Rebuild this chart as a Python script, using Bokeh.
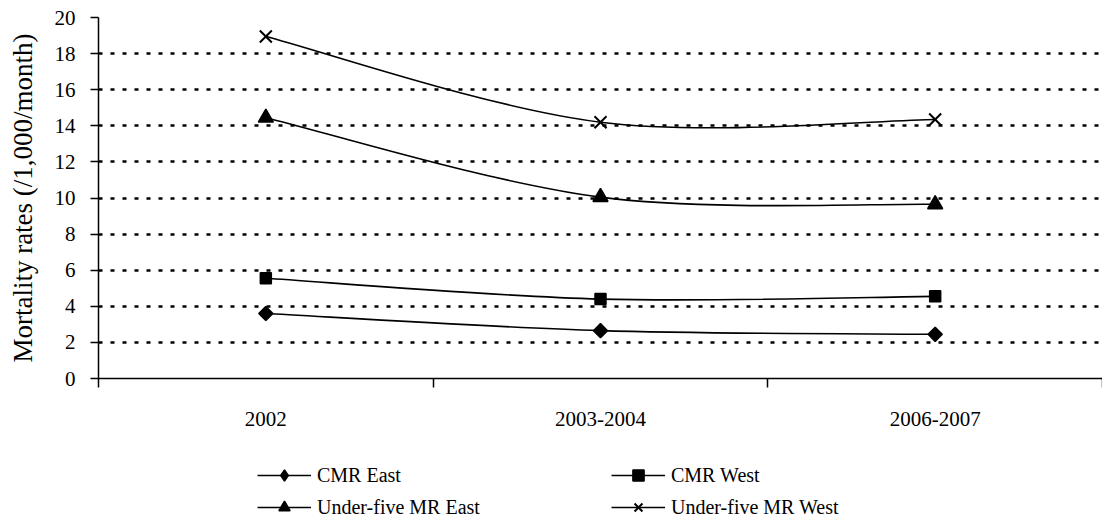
import numpy as np
from bokeh.plotting import figure
from bokeh.layouts import column
from bokeh.models import Range1d, FixedTicker, Legend, LegendItem
from bokeh.embed import file_html
from bokeh.resources import INLINE

# ---- data ----
categories = ["2002", "2003-2004", "2006-2007"]
cmr_east = [3.6, 2.65, 2.45]
cmr_west = [5.55, 4.4, 4.55]
u5_east = [14.45, 10.05, 9.65]
u5_west = [18.95, 14.2, 14.35]
y_ticks = [0, 2, 4, 6, 8, 10, 12, 14, 16, 18, 20]
series_names = ["CMR East", "CMR West", "Under-five MR East", "Under-five MR West"]

FONT = "Liberation Serif"
W = 1102

xs = list(range(1, len(categories) + 1))

p = figure(width=W, height=440, output_backend="svg", toolbar_location=None,
           x_range=Range1d(0.5, len(categories) + 0.5), y_range=Range1d(0, 20),
           min_border_left=98, min_border_right=0, min_border_top=17, min_border_bottom=62)
p.outline_line_color = None
p.background_fill_color = "white"
p.border_fill_color = "white"

# x axis: category labels at centres, ticks at category boundaries
xa = p.xaxis[0]
xa.ticker = FixedTicker(ticks=xs, minor_ticks=[x - 0.5 for x in xs] + [xs[-1] + 0.5])
xa.major_label_overrides = {x: c for x, c in zip(xs, categories)}
xa.major_tick_out = 0
xa.major_tick_in = 0
xa.minor_tick_out = 9
xa.minor_tick_in = 0
xa.minor_tick_line_color = "black"
xa.minor_tick_line_width = 1.5
xa.axis_line_color = "black"
xa.axis_line_width = 1.5
xa.major_label_text_font = FONT
xa.major_label_text_font_size = "21px"
xa.major_label_text_color = "black"
xa.major_label_standoff = 24

ya = p.yaxis[0]
ya.ticker = FixedTicker(ticks=y_ticks)
ya.major_tick_out = 8
ya.major_tick_in = 0
ya.minor_tick_out = 0
ya.minor_tick_in = 0
ya.major_tick_line_color = "black"
ya.major_tick_line_width = 1.5
ya.axis_line_color = "black"
ya.axis_line_width = 1.5
ya.major_label_text_font = FONT
ya.major_label_text_font_size = "21px"
ya.major_label_text_color = "black"
ya.major_label_standoff = 15
ya.axis_label = "Mortality rates (/1,000/month)"
ya.axis_label_text_font = FONT
ya.axis_label_text_font_size = "27px"
ya.axis_label_text_font_style = "normal"
ya.axis_label_text_color = "black"
ya.axis_label_standoff = 14

p.xgrid.grid_line_color = None
p.ygrid.ticker = FixedTicker(ticks=y_ticks[1:])
p.ygrid.grid_line_color = "black"
p.ygrid.grid_line_width = 2.5
p.ygrid.grid_line_dash = "4 8"


def smooth(xv, yv):
    """Excel-like smoothed line: cubic Bezier segments through the data points."""
    pts = list(zip(xv, yv))
    n = len(pts)
    out = {k: [] for k in ["x0", "y0", "x1", "y1", "cx0", "cy0", "cx1", "cy1"]}
    for i in range(n - 1):
        pp = pts[i - 1] if i > 0 else pts[i]
        a = pts[i]
        b = pts[i + 1]
        nn = pts[i + 2] if i + 2 < n else pts[i + 1]
        out["x0"].append(a[0]); out["y0"].append(a[1])
        out["x1"].append(b[0]); out["y1"].append(b[1])
        out["cx0"].append(a[0] + (b[0] - pp[0]) / 6); out["cy0"].append(a[1] + (b[1] - pp[1]) / 6)
        out["cx1"].append(b[0] - (nn[0] - a[0]) / 6); out["cy1"].append(b[1] - (nn[1] - a[1]) / 6)
    return out


# (marker, angle, size, line width) in the chart, and marker used for the legend swatch
markers = [("square", np.pi / 4, 10, 1.5), ("square", 0, 11, 1.5),
           ("triangle", 0, 15, 1.5), ("x", 0, 17, 2.0)]
legend_markers = ["diamond", "square", "triangle", "x"]
all_series = [cmr_east, cmr_west, u5_east, u5_west]


def draw_series(fig, visible=True, legend_style=False):
    rs = []
    for i, (ys, (mk, ang, sz, lw)) in enumerate(zip(all_series, markers)):
        seg = smooth(xs, ys)
        r_line = fig.bezier(x0=seg["x0"], y0=seg["y0"], x1=seg["x1"], y1=seg["y1"],
                            cx0=seg["cx0"], cy0=seg["cy0"], cx1=seg["cx1"], cy1=seg["cy1"],
                            line_color="black", line_width=1.6, visible=visible)
        r_mark = fig.scatter(x=xs, y=ys,
                             marker=legend_markers[i] if legend_style else mk,
                             angle=0 if legend_style else ang, size=sz,
                             fill_color="black", line_color="black", line_width=lw,
                             visible=visible)
        rs.append((r_line, r_mark))
    return rs


draw_series(p)

# ---- legend strip below the chart ----
q = figure(width=W, height=81, output_backend="svg", toolbar_location=None,
           x_axis_type=None, y_axis_type=None,
           x_range=Range1d(0.5, len(categories) + 0.5), y_range=Range1d(0, 20),
           min_border_left=0, min_border_right=0, min_border_top=0, min_border_bottom=0)
q.outline_line_color = None
q.grid.visible = False
q.background_fill_color = "white"
q.border_fill_color = "white"
leg_rs = draw_series(q, visible=False, legend_style=True)

items = [LegendItem(label=name, renderers=[rl, rm]) for name, (rl, rm) in zip(series_names, leg_rs)]
legend = Legend(items=items, location=(159, 0), orientation="horizontal", ncols=2,
                glyph_width=54, glyph_height=28, label_height=28, label_width=290,
                label_standoff=6, spacing=4, padding=0, margin=0,
                label_text_font=FONT, label_text_font_size="20px", label_text_color="black",
                border_line_color=None, background_fill_alpha=0,
                inactive_fill_alpha=0)
q.add_layout(legend, "center")

layout = column(p, q, spacing=0)
open("out.html", "w").write(file_html(layout, INLINE))
